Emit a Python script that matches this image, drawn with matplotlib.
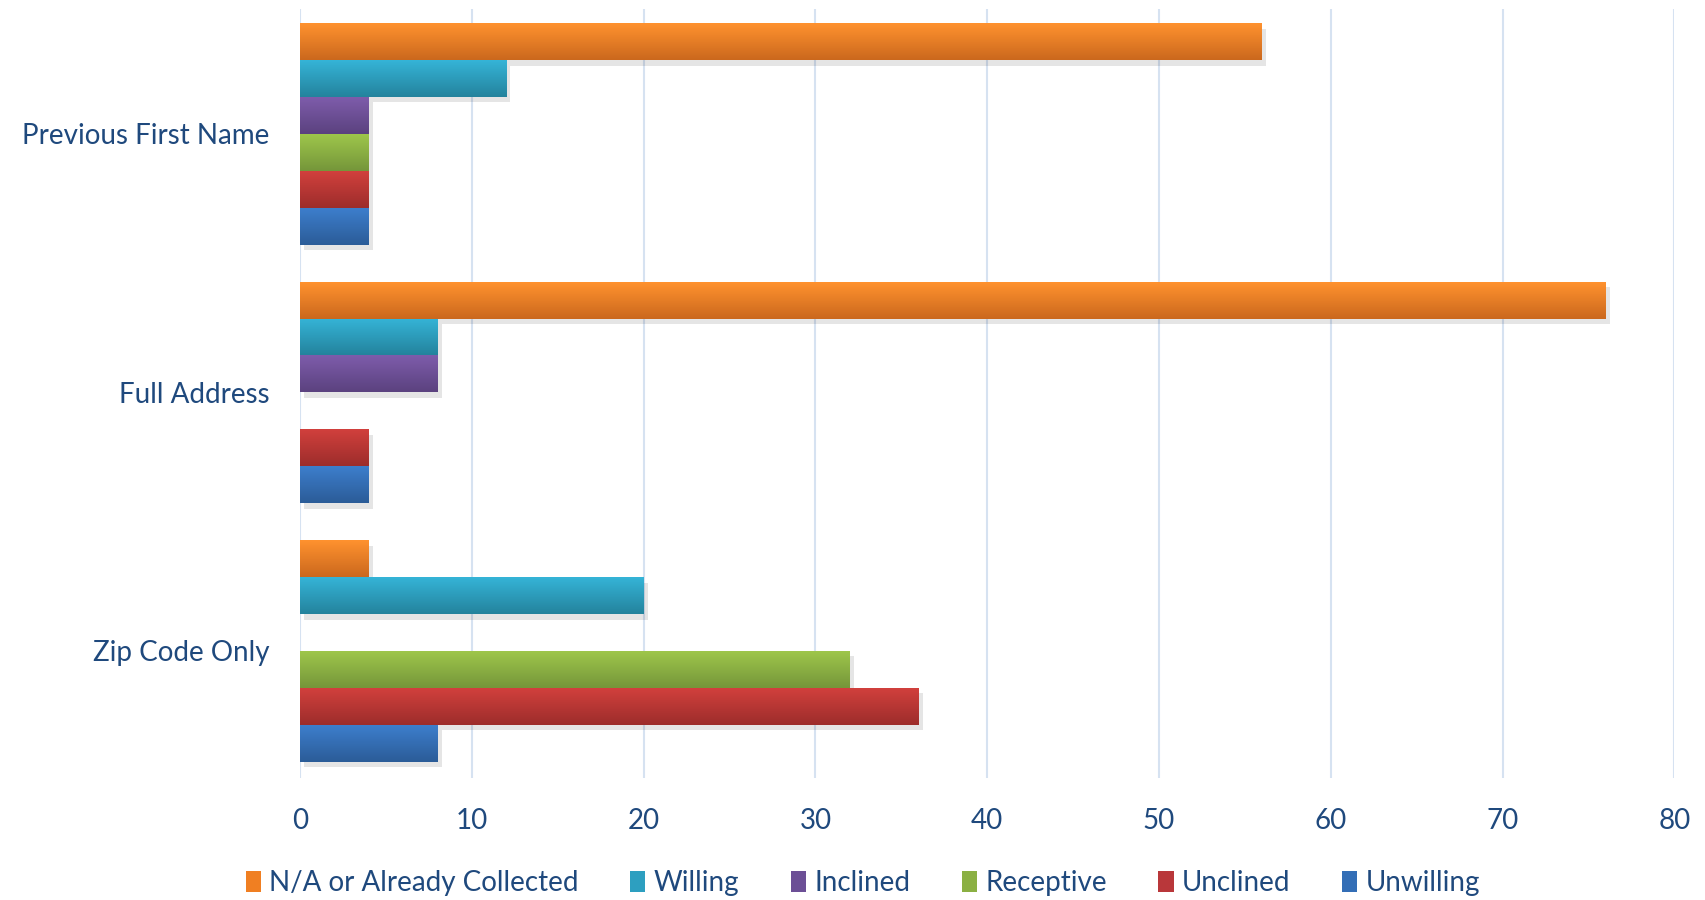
import matplotlib
matplotlib.use("Agg")
import matplotlib.pyplot as plt
import matplotlib.patheffects as pe
import numpy as np
from matplotlib.colors import to_rgb
from matplotlib.patches import Patch

categories = ["Zip Code Only", "Full Address", "Previous First Name"]
series = ["N/A or Already Collected", "Willing", "Inclined", "Receptive", "Unclined", "Unwilling"]
na_collected = [4, 76, 56]
willing = [20, 8, 12]
inclined = [0, 8, 4]
receptive = [32, 0, 4]
unclined = [36, 4, 4]
unwilling = [8, 4, 4]
values = [na_collected, willing, inclined, receptive, unclined, unwilling]
xticks = [0, 10, 20, 30, 40, 50, 60, 70, 80]

top_colors = ["#FF922F", "#35B4D7", "#7E5CAB", "#9EC64B", "#D1403D", "#3D7ECC"]
bot_colors = ["#CB681D", "#24839D", "#5B427F", "#75963A", "#9D2D2B", "#2B5C98"]
legend_colors = ["#F07F22", "#2D9FC0", "#6C4F96", "#8BB043", "#B9373A", "#336EB6"]
text_color = "#1F497D"

plt.rcParams["font.family"] = ["Lato", "DejaVu Sans"]

fig = plt.figure(figsize=(17.05, 9.0), dpi=100)
ax = fig.add_axes([0.176, 0.136, 0.806, 0.854])

n = len(series)
h = 1.0 / 7
y = np.arange(len(categories))
for i, (vals, tc, bc) in enumerate(zip(values, top_colors, bot_colors)):
    pos = y + (2.5 - i) * h
    bars = ax.barh(pos, vals, height=h, color=tc, zorder=3, linewidth=0,
                   path_effects=[pe.SimplePatchShadow(offset=(3, -4), shadow_rgbFace="#000000", alpha=0.10),
                                 pe.Normal()])
    t = np.array(to_rgb(tc)); b = np.array(to_rgb(bc))
    grad = np.linspace(0, 1, 64)[:, None, None]
    img = b * (1 - grad) + t * grad
    img = np.repeat(img, 2, axis=1)
    for rect in bars.patches:
        if rect.get_width() <= 0:
            continue
        x0, y0 = rect.get_x(), rect.get_y()
        im = ax.imshow(img, extent=(x0, x0 + rect.get_width(), y0, y0 + rect.get_height()),
                       origin="lower", aspect="auto", zorder=4, interpolation="bilinear")
        im.set_clip_path(rect)

ax.set_xlim(0, 80)
ax.set_ylim(-0.49, 2.483)
ax.set_xticks(xticks)
ax.set_xticklabels([str(v) for v in xticks], fontsize=20, color=text_color)
ax.set_yticks(y)
ax.set_yticklabels(categories, fontsize=20, color=text_color)
ax.tick_params(axis="both", length=0)
ax.tick_params(axis="x", pad=22)
ax.tick_params(axis="y", pad=22)
ax.grid(axis="x", color="#D6E2F1", linewidth=1.5, zorder=0)
ax.set_axisbelow(True)
for s in ax.spines.values():
    s.set_visible(False)

handles = [Patch(facecolor=c, edgecolor="none") for c in legend_colors]
fig.legend(handles, series, loc="center", bbox_to_anchor=(0.506, 0.019), ncol=6,
           frameon=False, fontsize=20, labelcolor=text_color, handlelength=0.55,
           handleheight=0.8, handletextpad=0.3, columnspacing=1.85)

fig.savefig("out.png", dpi=100, facecolor="white")
